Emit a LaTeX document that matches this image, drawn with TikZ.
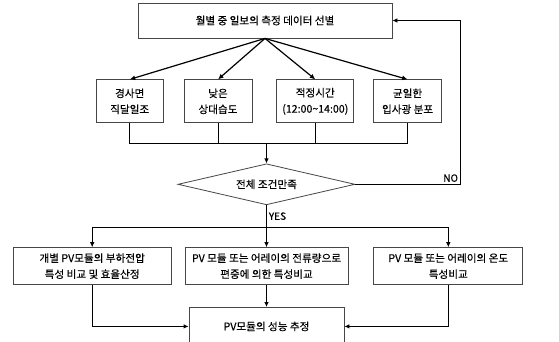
\documentclass[tikz,border=0pt]{standalone}
\usepackage{fontspec}
\setmainfont{Noto Sans CJK KR}[FakeBold=0.35]
\usepackage{tikz}
\usetikzlibrary{positioning,arrows.meta,shapes.geometric}
\definecolor{boxgray}{RGB}{70,70,70}

\begin{document}
\begin{tikzpicture}[
      font=\fontsize{10.6}{16}\selectfont,
      block/.style={rectangle, draw=boxgray, fill=white, align=center, inner sep=2pt, line width=0.8pt},
      cond/.style={diamond, draw=boxgray, fill=white, aspect=4.3, inner sep=1pt, minimum width=177pt, minimum height=41pt, line width=0.8pt},
      arrow/.style={-{Latex[length=5pt,width=4.5pt]}, line width=0.8pt},
      fan/.style={-{Latex[length=5.5pt,width=5pt]}, line width=1.2pt},
      line/.style={line width=0.8pt},
      lab/.style={font=\fontsize{10}{11}\selectfont, inner sep=2pt}
    ]
    \useasboundingbox (0pt,0pt) rectangle (559pt,-341pt);

    \node[block, minimum width=254pt, minimum height=35pt] (select) at (265pt,-20.5pt) {월별 중 일보의 측정 데이터 선별};

    \node[block, minimum width=68pt, minimum height=43pt, below=41pt of select, xshift=-47pt] (humid) {낮은\\상대습도};
    \node[block, minimum width=67pt, minimum height=43pt, left=20pt of humid] (direct) {경사면\\직달일조};
    \node[block, minimum width=77pt, minimum height=43pt, right=24pt of humid] (time) {적정시간\\(12:00\textasciitilde14:00)};
    \node[block, minimum width=68pt, minimum height=43pt, right=19pt of time] (irrad) {균일한\\입사광 분포};

    \node[cond, below=125pt of select, xshift=1.5pt] (check) {전체 조건만족};
    \coordinate[above=20pt of check.north] (join);
    \coordinate[below=22pt of check.south] (split);

    \node[block, minimum width=163pt, minimum height=37pt, below=20pt of split] (current) {PV 모듈 또는 어레이의 전류량으로\\편중에 의한 특성비교};
    \node[block, minimum width=158pt, minimum height=37pt, left=13pt of current] (voltage) {개별 PV모듈의 부하전압\\특성 비교 및 효율산정};
    \node[block, minimum width=149pt, minimum height=37pt, right=25pt of current] (temp) {PV 모듈 또는 어레이의 온도\\특성비교};

    \node[block, minimum width=155pt, minimum height=38pt, below=22pt of current] (perf) {PV모듈의 성능 추정};

    \draw[fan] (select.south) -- (direct.north);
    \draw[fan] (select.south) -- (humid.north);
    \draw[fan] (select.south) -- (time.north);
    \draw[fan] (select.south) -- (irrad.north);

    \draw[line] (direct.south) |- (join) -| (irrad.south);
    \draw[line] (humid.south) |- (join);
    \draw[line] (time.south) |- (join);
    \draw[arrow] (join) -- (check.north);

    \draw[arrow] (check.east) -- ++(105pt,0) node[lab, pos=1, above left] {NO} |- (select.east);
    \draw[line] (check.south) -- node[lab, right] {YES} (split);

    \draw[arrow] (split) -| (voltage.north);
    \draw[arrow] (split) -- (current.north);
    \draw[arrow] (split) -| (temp.north);

    \draw[arrow] (voltage.south) |- (perf.west);
    \draw[arrow] (current.south) -- (perf.north);
    \draw[arrow] (temp.south) |- (perf.east);
    \end{tikzpicture}
\end{document}
